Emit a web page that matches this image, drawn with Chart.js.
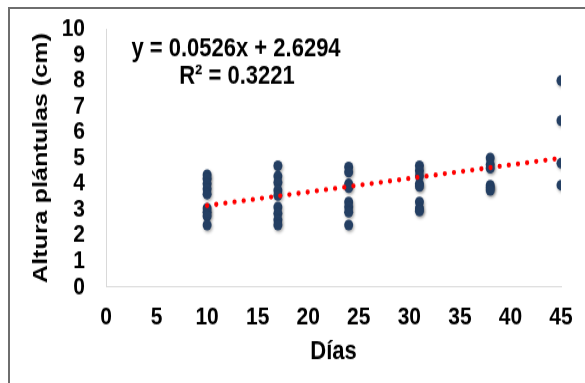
<!DOCTYPE html>
<html>
<head>
<meta charset="utf-8">
<script src="https://cdn.jsdelivr.net/npm/chart.js@4/dist/chart.umd.min.js"></script>
<style>
  html, body { margin: 0; padding: 0; background: #ffffff; }
  #wrap { position: relative; width: 585px; height: 383px; overflow: hidden; }
  #frame { position: absolute; left: 8px; top: 7px; width: 700px; height: 500px;
           border-left: 2px solid #6e6e6e; border-top: 2px solid #6e6e6e; }
  #stretch { position: absolute; left: 0; top: 0; width: 585px; height: 320px;
             transform: scaleY(1.196875); transform-origin: 0 0; }
</style>
</head>
<body>
<div id="wrap">
  <div id="frame"></div>
  <div id="stretch"><canvas id="c" width="585" height="320"></canvas></div>
</div>
<script>
// ---- data ----
const dias = [10, 17, 24, 31, 38, 45];
const altura10 = [4.35, 4.2, 4.0, 3.8, 3.6, 3.05, 2.9, 2.75, 2.4];
const altura17 = [4.7, 4.3, 4.05, 3.75, 3.55, 3.1, 2.85, 2.6, 2.4];
const altura24 = [4.65, 4.45, 4.0, 3.85, 3.3, 3.1, 2.9, 2.4];
const altura31 = [4.7, 4.5, 4.3, 4.0, 3.9, 3.3, 3.05, 2.95];
const altura38 = [5.0, 4.75, 4.6, 3.95, 3.85, 3.75];
const altura45 = [8.0, 6.45, 4.8, 3.95];
const alturasPorDia = [altura10, altura17, altura24, altura31, altura38, altura45];

const pendiente = 0.0526;
const intercepto = 2.6294;
const r2 = 0.3221;
const xTicks = [0, 5, 10, 15, 20, 25, 30, 35, 40, 45];
const yTicks = [0, 1, 2, 3, 4, 5, 6, 7, 8, 9, 10];
const ecuacion = "y = 0.0526x + 2.6294";
const textoR2 = "R² = 0.3221";
const tituloX = "Días";
const tituloY = "Altura plántulas (cm)";

// ---- build library structures ----
const puntos = [];
dias.forEach((d, i) => alturasPorDia[i].forEach(v => puntos.push({ x: d, y: v })));
const xMinTrend = dias[0], xMaxTrend = dias[dias.length - 1];
const tendencia = [
  { x: xMinTrend, y: pendiente * xMinTrend + intercepto },
  { x: xMaxTrend, y: pendiente * xMaxTrend + intercepto }
];

const FONT = "'Liberation Sans', Arial, sans-serif";

const eqPlugin = {
  id: 'eq',
  afterDatasetsDraw(chart) {
    const ctx = chart.ctx;
    ctx.save();
    ctx.fillStyle = '#000';
    ctx.font = 'bold 22px ' + FONT;
    ctx.textAlign = 'center';
    ctx.textBaseline = 'middle';
    ctx.fillText(ecuacion, 236, 40.5);
    ctx.fillText(textoR2, 237, 63.5);
    ctx.restore();
  }
};

const shadowPlugin = {
  id: 'shadow',
  beforeDatasetDraw(chart, args) {
    if (args.index === 0) {
      const ctx = chart.ctx;
      ctx.save();
      ctx.shadowColor = 'rgba(0,0,0,0.35)';
      ctx.shadowBlur = 3;
      ctx.shadowOffsetX = 1;
      ctx.shadowOffsetY = 1.5;
    }
  },
  afterDatasetDraw(chart, args) {
    if (args.index === 0) chart.ctx.restore();
  }
};

new Chart(document.getElementById('c'), {
  type: 'scatter',
  data: {
    datasets: [
      {
        label: 'Altura',
        data: puntos,
        backgroundColor: '#243f63',
        borderColor: '#243f63',
        pointRadius: 4.5,
        pointBorderWidth: 0,
        order: 2
      },
      {
        type: 'line',
        label: 'Tendencia',
        data: tendencia,
        borderColor: '#ff0000',
        borderWidth: 4.3,
        borderDash: [0, 9.2],
        borderCapStyle: 'round',
        pointRadius: 0,
        fill: false,
        order: 1
      }
    ]
  },
  options: {
    responsive: false,
    animation: false,
    devicePixelRatio: 1,
    layout: { padding: { left: 29, right: 24, top: 24.2, bottom: 12.7 } },
    plugins: { legend: { display: false }, tooltip: { enabled: false } },
    scales: {
      x: {
        type: 'linear',
        min: 0, max: 45,
        afterBuildTicks(s) { s.ticks = xTicks.map(v => ({ value: v })); },
        afterFit(s) { s.height = 67.5; s.paddingLeft = 0; s.paddingRight = 0; },
        grid: { display: false, drawTicks: false },
        border: { display: true, color: '#d9d9d9', width: 1 },
        ticks: { autoSkip: false, padding: 12.6, color: '#000', maxRotation: 0,
                 font: { family: FONT, size: 21, weight: 'bold' } },
        title: { display: true, text: tituloX, color: '#000', padding: 0,
                 font: { family: FONT, size: 22, weight: 'bold' } }
      },
      y: {
        type: 'linear',
        min: 0, max: 10,
        afterBuildTicks(s) { s.ticks = yTicks.map(v => ({ value: v })); },
        afterFit(s) { s.width = 77; s.paddingTop = 0; s.paddingBottom = 0; },
        grid: { display: false, drawTicks: false },
        border: { display: true, color: '#d9d9d9', width: 1 },
        ticks: { autoSkip: false, padding: 21, color: '#000',
                 font: { family: FONT, size: 21, weight: 'bold' } },
        title: { display: true, text: tituloY, color: '#000', padding: 0,
                 font: { family: FONT, size: 21, weight: 'bold' } }
      }
    }
  },
  plugins: [shadowPlugin, eqPlugin]
});
</script>
</body>
</html>
